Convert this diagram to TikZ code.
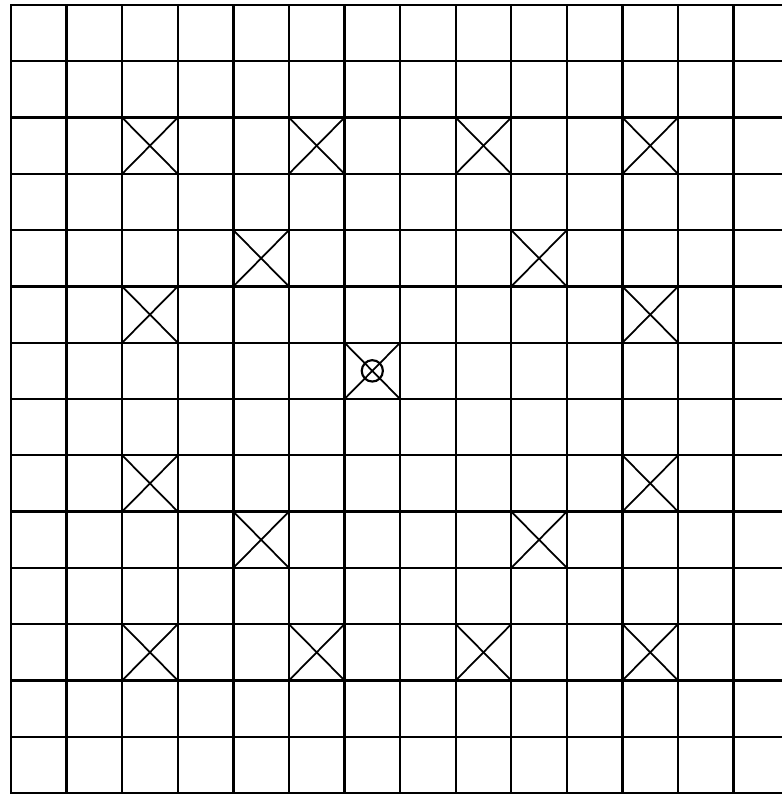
\documentclass[tikz,border=0pt]{standalone}
\usepackage{tikz}
\begin{document}
\begin{tikzpicture}[x=1cm,y=1.0126cm]
  \useasboundingbox (-0.198,-0.053) rectangle (13.867,14.089);
  \clip (-0.198,-0.053) rectangle (13.867,14.089);
  % grid of cells
  \foreach \i in {0,...,14}{
    \draw[line width=1.2pt,line cap=rect] (\i,0) -- (\i,14);
    \draw[line width=1.2pt,line cap=rect] (0,\i) -- (14,\i);
  }
  % crossed cells (column/row, rows counted from the top)
  \foreach \c/\r in {2/2,5/2,8/2,11/2,4/4,9/4,2/5,11/5,6/6,2/8,11/8,4/9,9/9,2/11,5/11,8/11,11/11}{
    \draw[line width=0.9pt] (\c,{14-\r}) -- ({\c+1},{13-\r});
    \draw[line width=0.9pt] (\c,{13-\r}) -- ({\c+1},{14-\r});
  }
  % centre mark
  \draw[line width=1.1pt] (6.5,7.5) circle (0.19);
\end{tikzpicture}
\end{document}
